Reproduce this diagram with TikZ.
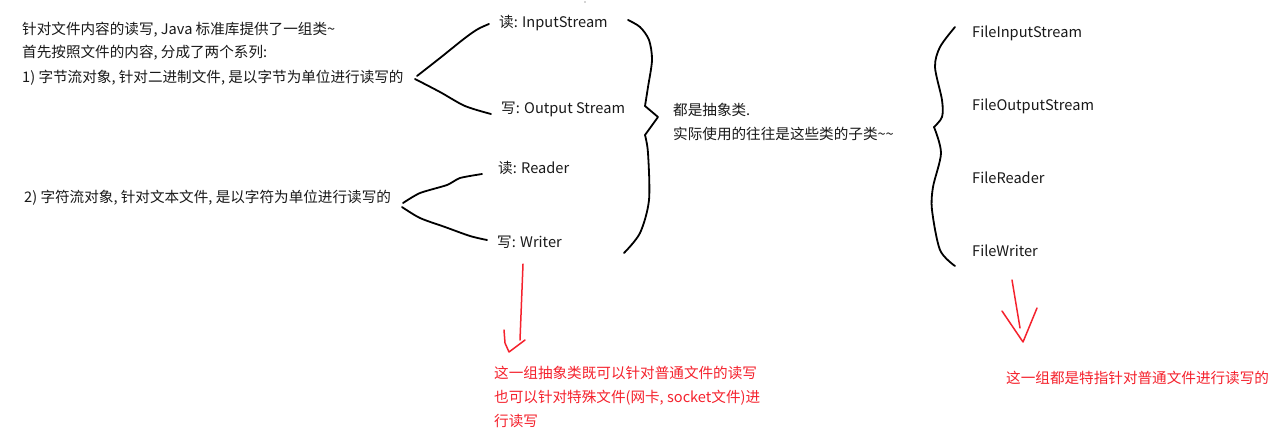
\documentclass[tikz,border=0pt]{standalone}
\usepackage{fontspec}
\setmainfont{Noto Sans CJK SC}
\begin{document}
\begin{tikzpicture}[x=1pt,y=-1pt,
  txt/.style={anchor=base west,inner sep=0pt,font=\fontsize{14.6}{17}\selectfont,text=black!90},
  redtxt/.style={txt,text=redink},
  ink/.style={draw=black,line width=1.8pt,line cap=round,line join=round},
  redink/.style={draw=redink,line width=1.5pt,line cap=round,line join=round}]
\definecolor{redink}{HTML}{F5222D}
\useasboundingbox (0,0) rectangle (1276,440);
\fill[white] (0,0) rectangle (1276,440);
% left texts
\node[txt] (t1) at (22,34) {针对文件内容的读写, Java 标准库提供了一组类\textasciitilde};
\node[txt] (t2) at (22,57) {首先按照文件的内容, 分成了两个系列:};
\node[txt] (t3) at (22,82) {1) 字节流对象, 针对二进制文件, 是以字节为单位进行读写的};
\node[txt] (t4) at (24,202) {2) 字符流对象, 针对文本文件, 是以字符为单位进行读写的};
% middle
\node[txt] (a1) at (499,27) {读: InputStream};
\node[txt] (a2) at (501,113) {写: Output Stream};
\node[txt] (a3) at (498,173) {读: Reader};
\node[txt] (a4) at (497,247) {写: Writer};
\node[txt] (m1) at (673,115) {都是抽象类.};
\node[txt] (m2) at (673,139) {实际使用的往往是这些类的子类\textasciitilde\textasciitilde};
% right
\node[txt] (f1) at (972,37) {FileInputStream};
\node[txt] (f2) at (972,110) {FileOutputStream};
\node[txt] (f3) at (972,183) {FileReader};
\node[txt] (f4) at (972,256) {FileWriter};
% red
\node[redtxt] (r1) at (494,378) {这一组抽象类既可以针对普通文件的读写};
\node[redtxt] (r2) at (494,402) {也可以针对特殊文件(网卡, socket文件)进};
\node[redtxt] (r3) at (494,426) {行读写};
\node[redtxt] (r4) at (1006,383) {这一组都是特指针对普通文件进行读写的};
% forks
\draw[ink] plot[smooth,tension=.5] coordinates {(417,76)(440,58)(465,38)(478,29)(489,24)};
\draw[ink] plot[smooth,tension=.5] coordinates {(415,79)(440,92)(465,106)(491,114)};
\draw[ink] plot[smooth,tension=.4] coordinates {(403,203)(420,193)(447,185)(460,178)(482,174)};
\draw[ink] plot[smooth,tension=.5] coordinates {(402,207)(420,218)(445,227)(470,236)(487,240)};
% braces
\draw[ink] plot[smooth,tension=.5] coordinates {(628,20)(640,27)(649,40)(652,60)(648,87)(645,106)};
\draw[ink] (645,106) -- (658,117) -- (645,135);
\draw[ink] plot[smooth,tension=.5] coordinates {(645,135)(648,153)(649,200)(640,233)(624,253)};
\draw[ink] plot[smooth,tension=.5] coordinates {(955,27)(940,47)(935,67)(942,100)(942,117)(934,127)};
\draw[ink] plot[smooth,tension=.5] coordinates {(934,127)(941,153)(933,187)(932,210)(940,250)(955,266)};
% red arrows
\draw[redink] (523,264) -- (520,340);
\draw[redink] (504,330) -- (505,343) -- (509,352) -- (525,340);
\draw[redink] (1012,280) -- (1020,328);
\draw[redink] (1002,311) -- (1023,342) -- (1037,308);
% speck
\fill[black!70] (585,2) circle (.7);
\end{tikzpicture}
\end{document}
